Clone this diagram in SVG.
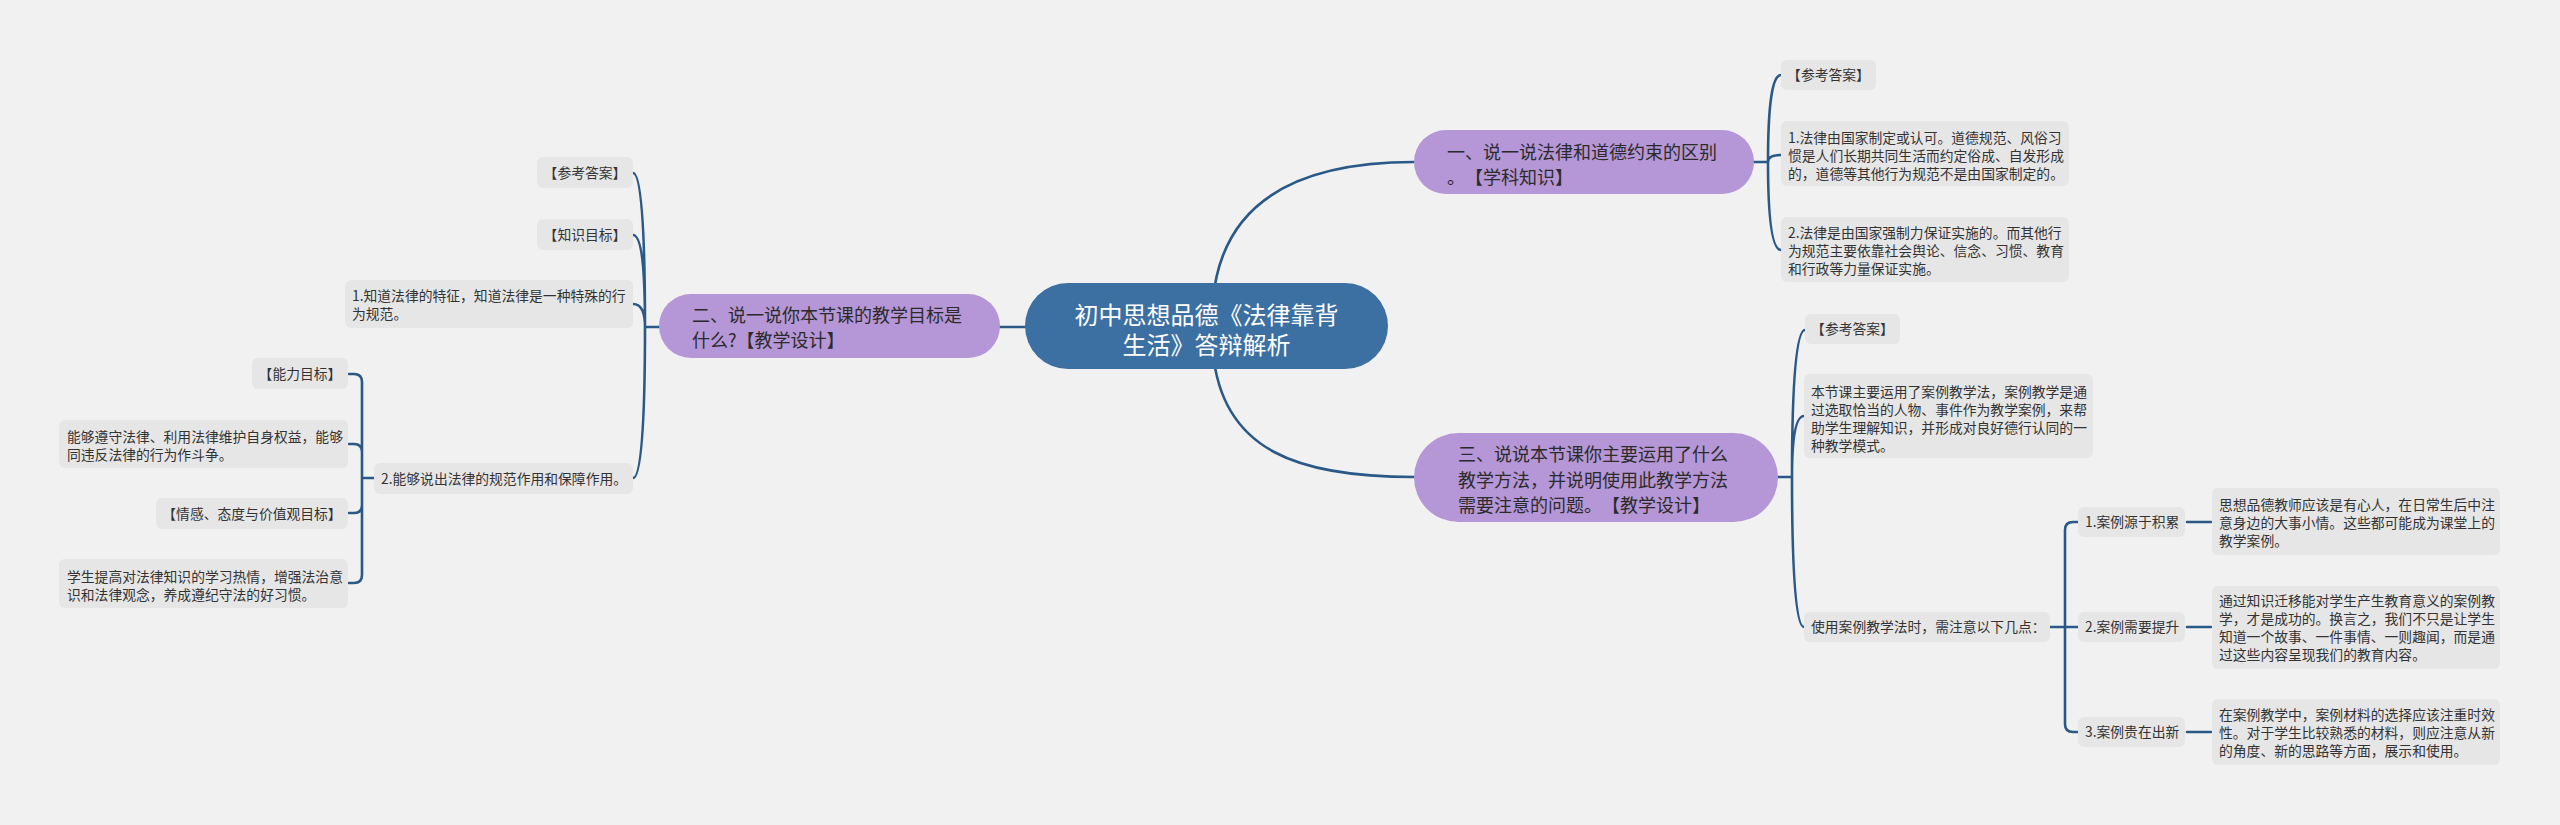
<svg xmlns="http://www.w3.org/2000/svg" width="2560" height="825" viewBox="0 0 2560 825">
<style>
text{font-family:"Noto Sans CJK SC","Noto Sans",sans-serif;fill:#333333;text-spacing-trim:space-all}
.leaf{fill:#e6e6e6}
.lt{font-size:13.8px}
.br{fill:#b596d6}
.bt{font-size:18px;fill:#2b2b2b}
.root{fill:#3d70a2}
.rt{font-size:24px;fill:#ffffff}
.c{fill:none;stroke:#2a5987;stroke-width:2.6;stroke-linecap:round}
.m{text-anchor:middle}
</style>
<rect width="2560" height="825" fill="#f1f1f1"/>
<g id="connectors">
<path class="c" d="M1213,300 C1222,200 1300,162 1414,162"/>
<path class="c" d="M1213,352 C1222,452 1300,477 1414,477"/>
<path class="c" d="M1025,327 H1000"/>
<path class="c" d="M1754,162 H1768 M1768,162 Q1768,75 1781,75 M1768,162 Q1768,155 1781,155 M1768,162 Q1768,250 1781,250"/>
<path class="c" d="M659,327 H645 M645,327 Q645,173 633,173 M645,327 Q645,235 633,235 M645,327 Q645,304 633,304 M645,327 Q645,478 633,478"/>
<path class="c" d="M374,478 H362 M362,478 V382 Q362,374 354,374 H349 M362,478 V452 Q362,444 354,444 H349 M362,478 V505 Q362,513 354,513 H349 M362,478 V575 Q362,583 354,583 H349"/>
<path class="c" d="M1778,477 H1792 M1792,477 Q1792,330 1805,330 M1792,477 Q1792,416 1804,416 M1792,477 Q1792,627 1804,627"/>
<path class="c" d="M2050,627 H2078 M2065,627 V530 Q2065,522 2073,522 H2078 M2065,627 V724 Q2065,732 2073,732 H2078"/>
<path class="c" d="M2187,522 H2211 M2187,627 H2211 M2187,732 H2211"/>
</g>
<g id="root">
<rect class="root" x="1025" y="283" width="363" height="86" rx="43"/>
<text class="rt m" x="1206.5" y="324">初中思想品德《法律靠背</text>
<text class="rt m" x="1206.5" y="354">生活》答辩解析</text>
</g>
<g id="branch1">
<rect class="br" x="1414" y="130" width="340" height="64" rx="32"/>
<text class="bt" x="1447" y="159">一、说一说法律和道德约束的区别</text>
<text class="bt" x="1447" y="184">。【学科知识】</text>
</g>
<g id="b1-answer">
<rect class="leaf" x="1781" y="60" width="95" height="30" rx="6"/>
<text class="lt m" x="1828.5" y="80">【参考答案】</text>
</g>
<g id="b1-leaf1">
<rect class="leaf" x="1781" y="121" width="288" height="65" rx="6"/>
<text class="lt" x="1788" y="143">1.法律由国家制定或认可。道德规范、风俗习</text>
<text class="lt" x="1788" y="161">惯是人们长期共同生活而约定俗成、自发形成</text>
<text class="lt" x="1788" y="179">的，道德等其他行为规范不是由国家制定的。</text>
</g>
<g id="b1-leaf2">
<rect class="leaf" x="1781" y="217" width="288" height="65" rx="6"/>
<text class="lt" x="1788" y="238">2.法律是由国家强制力保证实施的。而其他行</text>
<text class="lt" x="1788" y="256">为规范主要依靠社会舆论、信念、习惯、教育</text>
<text class="lt" x="1788" y="274">和行政等力量保证实施。</text>
</g>
<g id="branch2">
<rect class="br" x="659" y="294" width="341" height="64" rx="32"/>
<text class="bt" x="692" y="322">二、说一说你本节课的教学目标是</text>
<text class="bt" x="692" y="347">什么?【教学设计】</text>
</g>
<g id="b2-answer">
<rect class="leaf" x="537" y="157" width="96" height="31" rx="6"/>
<text class="lt m" x="585" y="178">【参考答案】</text>
</g>
<g id="b2-knowledge">
<rect class="leaf" x="537" y="219" width="96" height="31" rx="6"/>
<text class="lt m" x="585" y="240">【知识目标】</text>
</g>
<g id="b2-item1">
<rect class="leaf" x="345" y="280" width="288" height="48" rx="6"/>
<text class="lt" x="352" y="301">1.知道法律的特征，知道法律是一种特殊的行</text>
<text class="lt" x="352" y="319">为规范。</text>
</g>
<g id="b2-item2">
<rect class="leaf" x="374" y="463" width="259" height="31" rx="6"/>
<text class="lt" x="381" y="484">2.能够说出法律的规范作用和保障作用。</text>
</g>
<g id="b2-ability">
<rect class="leaf" x="252" y="358" width="96" height="31" rx="6"/>
<text class="lt m" x="300" y="379">【能力目标】</text>
</g>
<g id="b2-ability-text">
<rect class="leaf" x="59" y="420" width="289" height="48" rx="6"/>
<text class="lt" x="67" y="442">能够遵守法律、利用法律维护自身权益，能够</text>
<text class="lt" x="67" y="460">同违反法律的行为作斗争。</text>
</g>
<g id="b2-emotion">
<rect class="leaf" x="156" y="498" width="192" height="31" rx="6"/>
<text class="lt m" x="252" y="519">【情感、态度与价值观目标】</text>
</g>
<g id="b2-emotion-text">
<rect class="leaf" x="59" y="559" width="289" height="49" rx="6"/>
<text class="lt" x="67" y="582">学生提高对法律知识的学习热情，增强法治意</text>
<text class="lt" x="67" y="600">识和法律观念，养成遵纪守法的好习惯。</text>
</g>
<g id="branch3">
<rect class="br" x="1414" y="433" width="364" height="89" rx="44.5"/>
<text class="bt" x="1458" y="461">三、说说本节课你主要运用了什么</text>
<text class="bt" x="1458" y="487">教学方法，并说明使用此教学方法</text>
<text class="bt" x="1458" y="512">需要注意的问题。【教学设计】</text>
</g>
<g id="b3-answer">
<rect class="leaf" x="1805" y="314" width="95" height="30" rx="6"/>
<text class="lt m" x="1852.5" y="334">【参考答案】</text>
</g>
<g id="b3-method">
<rect class="leaf" x="1804" y="374" width="289" height="84" rx="6"/>
<text class="lt" x="1811" y="397">本节课主要运用了案例教学法，案例教学是通</text>
<text class="lt" x="1811" y="415">过选取恰当的人物、事件作为教学案例，来帮</text>
<text class="lt" x="1811" y="433">助学生理解知识，并形成对良好德行认同的一</text>
<text class="lt" x="1811" y="451">种教学模式。</text>
</g>
<g id="b3-notice">
<rect class="leaf" x="1804" y="612" width="246" height="30" rx="6"/>
<text class="lt" x="1811" y="632">使用案例教学法时，需注意以下几点：</text>
</g>
<g id="n1">
<rect class="leaf" x="2078" y="507" width="107" height="30" rx="6"/>
<text class="lt" x="2085" y="527">1.案例源于积累</text>
</g>
<g id="n2">
<rect class="leaf" x="2078" y="612" width="107" height="30" rx="6"/>
<text class="lt" x="2085" y="632">2.案例需要提升</text>
</g>
<g id="n3">
<rect class="leaf" x="2078" y="717" width="107" height="30" rx="6"/>
<text class="lt" x="2085" y="737">3.案例贵在出新</text>
</g>
<g id="n1-text">
<rect class="leaf" x="2212" y="488" width="288" height="67" rx="6"/>
<text class="lt" x="2219" y="510">思想品德教师应该是有心人，在日常生后中注</text>
<text class="lt" x="2219" y="528">意身边的大事小情。这些都可能成为课堂上的</text>
<text class="lt" x="2219" y="546">教学案例。</text>
</g>
<g id="n2-text">
<rect class="leaf" x="2212" y="586" width="288" height="83" rx="6"/>
<text class="lt" x="2219" y="606">通过知识迁移能对学生产生教育意义的案例教</text>
<text class="lt" x="2219" y="624">学，才是成功的。换言之，我们不只是让学生</text>
<text class="lt" x="2219" y="642">知道一个故事、一件事情、一则趣闻，而是通</text>
<text class="lt" x="2219" y="660">过这些内容呈现我们的教育内容。</text>
</g>
<g id="n3-text">
<rect class="leaf" x="2212" y="699" width="288" height="66" rx="6"/>
<text class="lt" x="2219" y="720">在案例教学中，案例材料的选择应该注重时效</text>
<text class="lt" x="2219" y="738">性。对于学生比较熟悉的材料，则应注意从新</text>
<text class="lt" x="2219" y="756">的角度、新的思路等方面，展示和使用。</text>
</g>
</svg>
